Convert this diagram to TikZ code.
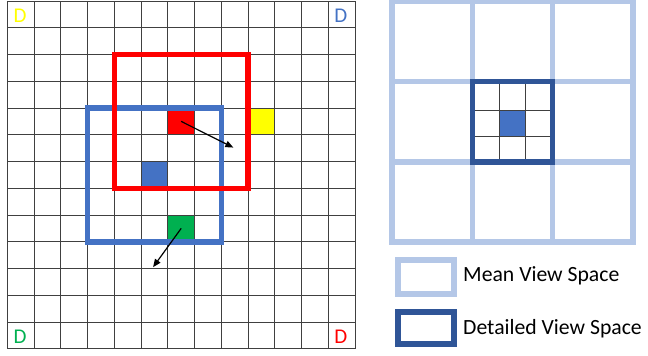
\documentclass[tikz,border=0pt]{standalone}
\usepackage{fontspec}
\setmainfont{Carlito}
\usetikzlibrary{arrows.meta}

\definecolor{cellred}{HTML}{FF0000}
\definecolor{cellyellow}{HTML}{FFFF00}
\definecolor{cellgreen}{HTML}{00B050}
\definecolor{mainblue}{HTML}{4472C4}
\definecolor{darkblue}{HTML}{2F5597}
\definecolor{lightblue}{HTML}{B4C7E7}

\tikzset{
  gridline/.style={black!75, line width=0.8pt},
  cell/.style={minimum size=26.75pt, inner sep=0pt, outer sep=0pt},
  viewbox/.style={line width=5.5pt},
  move/.style={-{Triangle[length=8pt,width=6.5pt]}, line width=1.2pt},
  dlabel/.style={anchor=base, inner sep=0pt, font=\fontsize{21}{24}\selectfont},
  meanline/.style={lightblue, line width=5.7pt, line cap=rect},
  detailline/.style={darkblue, line width=5.7pt},
  legendtext/.style={anchor=base west, inner sep=0pt, font=\fontsize{21.7}{24}\selectfont},
}

\begin{document}
\begin{tikzpicture}[x=1pt,y=-1pt]
  \useasboundingbox (0,0) rectangle (648,356);

  % world grid with the two moving view spaces
  \begin{scope}[shift={(7.3,1)},x=26.75pt,y=-26.75pt]
    \node[cell,fill=cellred] (redcell) at (6.5,4.5) {};
    \node[cell,fill=cellyellow] (yellowcell) at (9.5,4.5) {};
    \node[cell,fill=mainblue] (bluecell) at (5.5,6.5) {};
    \node[cell,fill=cellgreen] (greencell) at (6.5,8.5) {};
    \foreach \i in {0,...,13} {
      \draw[gridline] (\i,0) -- (\i,13);
      \draw[gridline] (0,\i) -- (13,\i);
    }
    \draw[viewbox,mainblue] (3,4) rectangle (8,9);
    \draw[viewbox,cellred] (4,2) rectangle (9,7);
    \coordinate (redto) at (8.45,5.48);
    \coordinate (greento) at (5.45,9.95);
    \draw[move] (redcell.center) -- (redto);
    \draw[move] (greencell.center) -- (greento);
    \node[dlabel,cellyellow] (dyellow) at (0.48,0.81) {D};
    \node[dlabel,mainblue] (dblue) at (12.47,0.81) {D};
    \node[dlabel,cellgreen] (dgreen) at (0.48,12.8) {D};
    \node[dlabel,cellred] (dred) at (12.47,12.8) {D};
  \end{scope}

  % mean view space, 3x3
  \begin{scope}[shift={(392.2,1.2)},x=80.2pt,y=-80.3pt]
    \foreach \i in {0,...,3} {
      \draw[meanline] (\i,0) -- (\i,3);
      \draw[meanline] (0,\i) -- (3,\i);
    }
  \end{scope}

  % detailed view space in the middle cell
  \begin{scope}[shift={(512.6,123.5)},x=25.8pt,y=-26.4pt]
    \node[minimum width=25.8pt,minimum height=26.4pt,inner sep=0pt,fill=mainblue] (centercell) at (0,0) {};
    \foreach \i in {-0.5,0.5} {
      \draw[gridline] (\i,-1.5) -- (\i,1.5);
      \draw[gridline] (-1.5,\i) -- (1.5,\i);
    }
  \end{scope}
  \draw[detailline] (472.4,81.5) rectangle (552.6,161.8);

  % legend
  \draw[meanline,line cap=butt] (398,260.3) rectangle (454.3,294.3);
  \draw[detailline] (398,312.3) rectangle (454.3,344.3);
  \node[legendtext] (meanlabel) at (463,281.7) {Mean View Space};
  \node[legendtext] (detaillabel) at (463,334) {Detailed View Space};
\end{tikzpicture}
\end{document}
